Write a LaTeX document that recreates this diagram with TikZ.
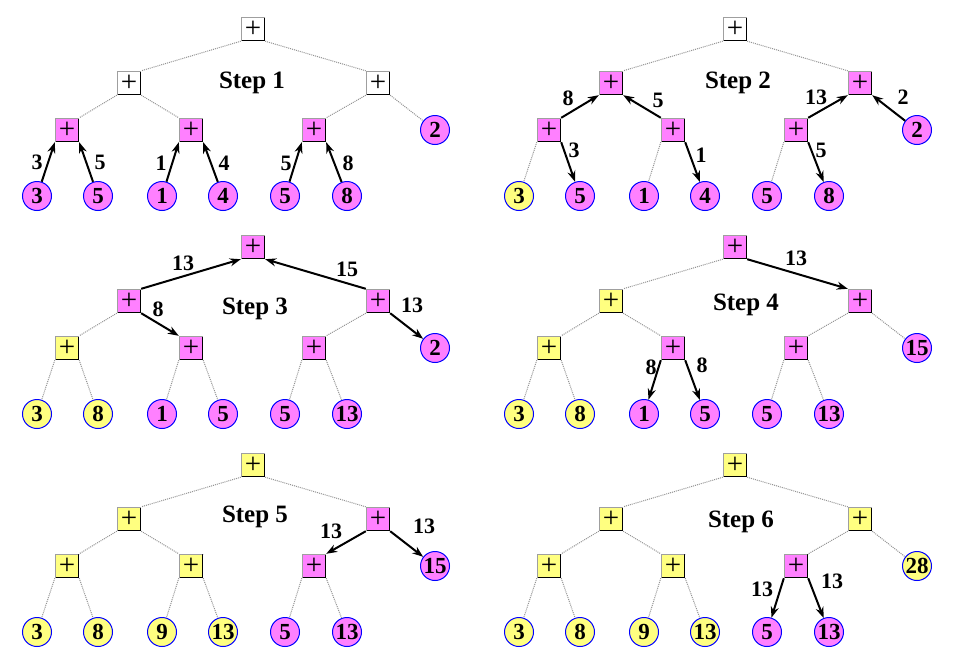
\documentclass[tikz,border=0pt]{standalone}
\usepackage{fontspec}
\setmainfont{Liberation Serif}
\usetikzlibrary{arrows.meta}
\definecolor{pk}{RGB}{255,128,255}
\definecolor{yl}{RGB}{255,255,128}
\tikzset{
  box/.style={rectangle, minimum size=23pt, inner sep=0pt, draw=gray!75, line width=1.4pt,
    font=\fontsize{29}{29}\selectfont,
    postaction={draw=black, line width=1.4pt, dash pattern=on 46pt off 200pt}},
  leaf/.style={circle, minimum size=29pt, inner sep=0pt, draw=blue, line width=1pt,
    font=\fontsize{23}{23}\selectfont\bfseries},
  dotline/.style={gray!85, densely dotted, line width=1pt},
  arr/.style={-{Stealth[length=11pt,width=8pt]}, line width=2pt, black},
  lab/.style={inner sep=0pt, font=\fontsize{22}{22}\selectfont\bfseries},
  steplab/.style={inner sep=0pt, font=\fontsize{25}{25}\selectfont\bfseries}
}
\newcommand\tree[9]{%
  \node[box,fill=#2] (#1R) at (253,29) {+};
  \node[box,fill=#3] (#1L) at (129,83) {+};
  \node[box,fill=#4] (#1Rt) at (378,83) {+};
  \node[box,fill=#5] (#1A) at (67,130) {+};
  \node[box,fill=#6] (#1B) at (191,130) {+};
  \node[box,fill=#7] (#1C) at (314,130) {+};
  \foreach \c/\t in {#8} {\node[leaf,fill=\c] (#1D) at (435,130) {\t};}
  \foreach \x/\c/\t [count=\i] in {#9} {\node[leaf,fill=\c] (#1l\i) at (\x,196) {\t};}
}
\begin{document}
\begin{tikzpicture}[x=1pt,y=-1pt]
\useasboundingbox (0,0) rectangle (958,656);
% ---------- Step 1
\begin{scope}
\tree{a}{white}{white}{white}{pk}{pk}{pk}{pk/2}{37/pk/3,98/pk/5,162/pk/1,223/pk/4,285/pk/5,347/pk/8}
\node[steplab] (as) at (252,83) {Step 1};
\draw[dotline] (aR.south west) -- (aL.north east);
\draw[dotline] (aR.south east) -- (aRt.north west);
\draw[dotline] (aL.south west) -- (aA.north east);
\draw[dotline] (aL.south east) -- (aB.north west);
\draw[dotline] (aRt.south west) -- (aC.north east);
\draw[dotline] (aRt.south east) -- (aD);
\draw[arr] (al1) -- (aA.south west);
\draw[arr] (al2) -- (aA.south east);
\draw[arr] (al3) -- (aB.south west);
\draw[arr] (al4) -- (aB.south east);
\draw[arr] (al5) -- (aC.south west);
\draw[arr] (al6) -- (aC.south east);
\node[lab] (at1) at (37,162) {3};
\node[lab] (at2) at (100,162) {5};
\node[lab] (at3) at (161,163) {1};
\node[lab] (at4) at (224,163) {4};
\node[lab] (at5) at (286,163) {5};
\node[lab] (at6) at (348,163) {8};
\end{scope}
% ---------- Step 2
\begin{scope}[shift={(482,0)}]
\tree{b}{white}{pk}{pk}{pk}{pk}{pk}{pk/2}{37/yl/3,98/pk/5,162/pk/1,223/pk/4,285/pk/5,347/pk/8}
\node[steplab] (bs) at (256,83) {Step 2};
\draw[dotline] (bR.south west) -- (bL.north east);
\draw[dotline] (bR.south east) -- (bRt.north west);
\draw[dotline] (bA.south west) -- (bl1);
\draw[dotline] (bB.south west) -- (bl3);
\draw[dotline] (bC.south west) -- (bl5);
\draw[arr] (bA.north east) -- (bL.south west);
\draw[arr] (bB.north west) -- (bL.south east);
\draw[arr] (bA.south east) -- (bl2);
\draw[arr] (bB.south east) -- (bl4);
\draw[arr] (bC.north east) -- (bRt.south west);
\draw[arr] (bD) -- (bRt.south east);
\draw[arr] (bC.south east) -- (bl6);
\node[lab] (bt1) at (86,98) {8};
\node[lab] (bt2) at (176,100) {5};
\node[lab] (bt3) at (92,150) {3};
\node[lab] (bt4) at (219,155) {1};
\node[lab] (bt5) at (334,97) {13};
\node[lab] (bt6) at (421,97) {2};
\node[lab] (bt7) at (339,150) {5};
\end{scope}
% ---------- Step 3
\begin{scope}[shift={(0,218)}]
\tree{c}{pk}{pk}{pk}{yl}{pk}{pk}{pk/2}{37/yl/3,98/yl/8,162/pk/1,223/pk/5,285/pk/5,347/pk/13}
\node[steplab] (cs) at (255,91) {Step 3};
\draw[dotline] (cL.south west) -- (cA.north east);
\draw[dotline] (cRt.south west) -- (cC.north east);
\draw[dotline] (cA.south west) -- (cl1);
\draw[dotline] (cA.south east) -- (cl2);
\draw[dotline] (cB.south west) -- (cl3);
\draw[dotline] (cB.south east) -- (cl4);
\draw[dotline] (cC.south west) -- (cl5);
\draw[dotline] (cC.south east) -- (cl6);
\draw[arr] (cL.north east) -- (cR.south west);
\draw[arr] (cRt.north west) -- (cR.south east);
\draw[arr] (cL.south east) -- (cB.north west);
\draw[arr] (cRt.south east) -- (cD);
\node[lab] (ct1) at (183,45) {13};
\node[lab] (ct2) at (347,51) {15};
\node[lab] (ct3) at (158,91) {8};
\node[lab] (ct4) at (412,87) {13};
\end{scope}
% ---------- Step 4
\begin{scope}[shift={(482,218)}]
\tree{d}{pk}{yl}{pk}{yl}{pk}{pk}{pk/15}{37/yl/3,98/yl/8,162/pk/1,223/pk/5,285/pk/5,347/pk/13}
\node[steplab] (ds) at (264,87) {Step 4};
\draw[dotline] (dR.south west) -- (dL.north east);
\draw[dotline] (dL.south west) -- (dA.north east);
\draw[dotline] (dL.south east) -- (dB.north west);
\draw[dotline] (dRt.south west) -- (dC.north east);
\draw[dotline] (dRt.south east) -- (dD);
\draw[dotline] (dA.south west) -- (dl1);
\draw[dotline] (dA.south east) -- (dl2);
\draw[dotline] (dC.south west) -- (dl5);
\draw[dotline] (dC.south east) -- (dl6);
\draw[arr] (dR.south east) -- (dRt.north west);
\draw[arr] (dB.south west) -- (dl3);
\draw[arr] (dB.south east) -- (dl4);
\node[lab] (dt1) at (314,40) {13};
\node[lab] (dt2) at (169,149) {8};
\node[lab] (dt3) at (220,147) {8};
\end{scope}
% ---------- Step 5
\begin{scope}[shift={(0,436)}]
\tree{e}{yl}{yl}{pk}{yl}{yl}{pk}{pk/15}{37/yl/3,98/yl/8,162/yl/9,223/yl/13,285/pk/5,347/pk/13}
\node[steplab] (es) at (255,81) {Step 5};
\draw[dotline] (eR.south west) -- (eL.north east);
\draw[dotline] (eR.south east) -- (eRt.north west);
\draw[dotline] (eL.south west) -- (eA.north east);
\draw[dotline] (eL.south east) -- (eB.north west);
\draw[dotline] (eA.south west) -- (el1);
\draw[dotline] (eA.south east) -- (el2);
\draw[dotline] (eB.south west) -- (el3);
\draw[dotline] (eB.south east) -- (el4);
\draw[dotline] (eC.south west) -- (el5);
\draw[dotline] (eC.south east) -- (el6);
\draw[arr] (eRt.south west) -- (eC.north east);
\draw[arr] (eRt.south east) -- (eD);
\node[lab] (et1) at (331,95) {13};
\node[lab] (et2) at (424,90) {13};
\end{scope}
% ---------- Step 6
\begin{scope}[shift={(482,436)}]
\tree{f}{yl}{yl}{yl}{yl}{yl}{pk}{yl/28}{37/yl/3,98/yl/8,162/yl/9,223/yl/13,285/pk/5,347/pk/13}
\node[steplab] (fs) at (259,86) {Step 6};
\draw[dotline] (fR.south west) -- (fL.north east);
\draw[dotline] (fR.south east) -- (fRt.north west);
\draw[dotline] (fL.south west) -- (fA.north east);
\draw[dotline] (fL.south east) -- (fB.north west);
\draw[dotline] (fRt.south west) -- (fC.north east);
\draw[dotline] (fRt.south east) -- (fD);
\draw[dotline] (fA.south west) -- (fl1);
\draw[dotline] (fA.south east) -- (fl2);
\draw[dotline] (fB.south west) -- (fl3);
\draw[dotline] (fB.south east) -- (fl4);
\draw[arr] (fC.south west) -- (fl5);
\draw[arr] (fC.south east) -- (fl6);
\node[lab] (ft1) at (280,153) {13};
\node[lab] (ft2) at (350,145) {13};
\end{scope}
\end{tikzpicture}
\end{document}
